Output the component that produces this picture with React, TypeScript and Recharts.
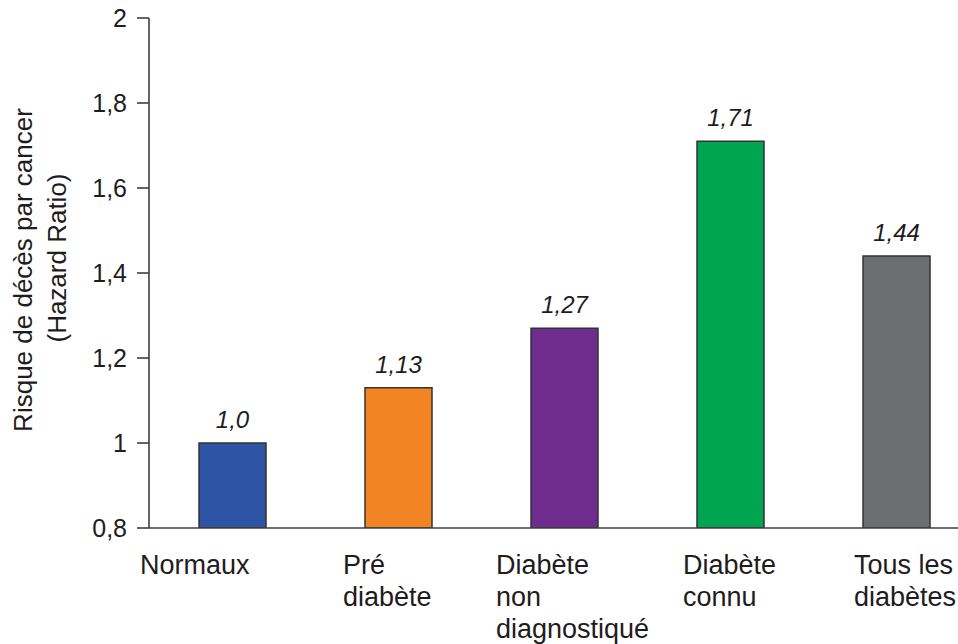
import React from 'react'
import { BarChart, Bar, XAxis, YAxis, Cell, LabelList } from 'recharts'

const categories = [
  'Normaux',
  'Pré\ndiabète',
  'Diabète\nnon\ndiagnostiqué',
  'Diabète\nconnu',
  'Tous les\ndiabètes',
]
const hazardRatios = [1.0, 1.13, 1.27, 1.71, 1.44]
const yTicks = [0.8, 1, 1.2, 1.4, 1.6, 1.8, 2]

const barColors = ['#2E55A5', '#F28423', '#6F2C8E', '#00A551', '#6D6E70']

const FONT = '"Liberation Sans", Arial, Helvetica, sans-serif'
const INK = '#1F1C1D'
const AXIS = '#3F3F3F'

// labels under the axis are left-aligned, each nudged from its band centre
const LABEL_SHIFT = [-92, -55, -68, -47, -42]

const data = categories.map((name, i) => ({ name, hr: hazardRatios[i] }))

function formatValue(v: number): string {
  const s = Number.isInteger(v) ? v.toFixed(1) : String(v)
  return s.replace('.', ',')
}

function formatTick(v: number): string {
  return String(Number(v.toFixed(1))).replace('.', ',')
}

function CategoryTick(props: any) {
  const { x, y, payload, index } = props
  const lines: string[] = String(payload.value).split('\n')
  const left = x + (LABEL_SHIFT[index] ?? 0)
  return (
    <text x={left} y={y} fill={INK} fontSize={27} fontFamily={FONT} textAnchor="start">
      {lines.map((line, i) => (
        <tspan key={i} x={left} dy={i === 0 ? 46 : 32}>
          {line}
        </tspan>
      ))}
    </text>
  )
}

function YTitle() {
  return (
    <g fill={INK} fontSize={26} fontFamily={FONT}>
      <text transform="rotate(-90)" x={-270} y={32} textAnchor="middle">
        Risque de décès par cancer
      </text>
      <text transform="rotate(-90)" x={-258} y={66} textAnchor="middle">
        (Hazard Ratio)
      </text>
    </g>
  )
}

export default function App() {
  return (
    <div
      style={{
        position: 'absolute',
        left: 0,
        top: 0,
        width: 958,
        height: 644,
        overflow: 'hidden',
        background: '#fff',
      }}
    >
      <BarChart
        width={990}
        height={644}
        data={data}
        margin={{ top: 18, right: 11, bottom: 0, left: 0 }}
      >
        <XAxis
          dataKey="name"
          height={116}
          tickLine={false}
          tickSize={0}
          tickMargin={0}
          interval={0}
          axisLine={{ stroke: AXIS, strokeWidth: 1.6 }}
          tick={<CategoryTick />}
        />
        <YAxis
          width={149}
          domain={[0.8, 2]}
          ticks={yTicks}
          allowDataOverflow
          tickFormatter={formatTick}
          tickSize={12}
          tickMargin={10}
          axisLine={{ stroke: AXIS, strokeWidth: 1.6 }}
          tickLine={{ stroke: AXIS, strokeWidth: 1.6 }}
          tick={{ fill: INK, fontSize: 25, fontFamily: FONT }}
          label={<YTitle />}
        />
        <Bar dataKey="hr" barSize={67} stroke="#333333" strokeWidth={1.5} isAnimationActive={false}>
          {data.map((d, i) => (
            <Cell key={d.name} fill={barColors[i]} />
          ))}
          <LabelList
            dataKey="hr"
            position="top"
            offset={15}
            formatter={(v: any) => formatValue(Number(v))}
            style={{ fill: INK, fontSize: 24, fontStyle: 'italic', fontFamily: FONT }}
          />
        </Bar>
      </BarChart>
    </div>
  )
}
